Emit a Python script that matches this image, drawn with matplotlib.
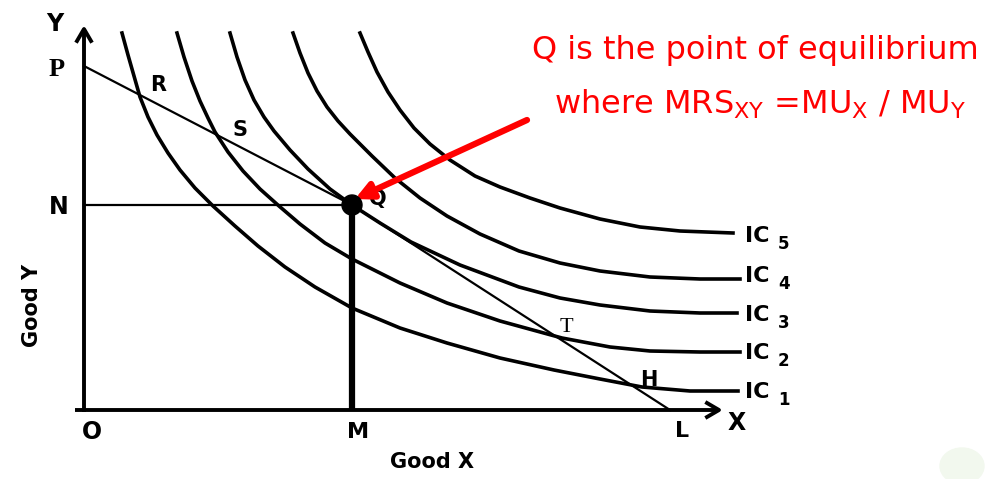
"""Consumer equilibrium: indifference curves IC1..IC5 and the budget line PL."""

import numpy as np
import matplotlib
matplotlib.use("Agg")
import matplotlib.pyplot as plt
from matplotlib.patches import Circle, Ellipse

plt.rcParams["font.family"] = ["DejaVu Sans"]

# drawing units: x to the right, y downwards, same scale as the 989x479 canvas
ORIGIN = (84, 410)
Y_TOP = 29
X_END = 719

# budget line P -> Q -> L
budget_x = [84, 352, 670]
budget_y = [66, 205, 410]

# indifference curves, read along their length
ic1_x = [122, 128, 134, 140, 148, 157, 168, 180, 195, 213, 235, 258, 285, 315, 352,
         400, 447, 500, 554, 600, 642, 690, 738]
ic1_y = [33, 55, 76, 97, 117, 135, 153, 170, 188, 206, 226, 246, 267, 287, 308,
         328, 343, 358, 370, 379, 387, 391, 391]
ic2_x = [177, 184, 192, 200, 208, 215, 228, 243, 260, 279, 300, 325, 352, 400, 447,
         500, 562, 610, 650, 700, 740]
ic2_y = [33, 57, 81, 101, 118, 132, 152, 171, 189, 206, 224, 243, 259, 283, 303,
         321, 338, 347, 351, 352, 352]
ic3_x = [230, 237, 245, 254, 264, 274, 290, 308, 330, 352, 380, 411, 460, 519, 560,
         600, 650, 700, 737]
ic3_y = [33, 57, 80, 100, 117, 131, 150, 169, 189, 205, 223, 242, 265, 287, 298,
         305, 311, 313, 313]
ic4_x = [293, 300, 308, 317, 327, 338, 350, 372, 395, 420, 447, 480, 519, 560, 600,
         650, 700, 740]
ic4_y = [33, 53, 73, 91, 107, 121, 134, 156, 178, 198, 216, 234, 251, 263, 271,
         277, 279, 279]
ic5_x = [360, 368, 377, 388, 400, 414, 430, 450, 475, 500, 530, 560, 600, 640, 680, 733]
ic5_y = [33, 52, 72, 92, 110, 128, 144, 160, 176, 187, 198, 208, 219, 227, 231, 233]
ic_names = ["1", "2", "3", "4", "5"]
ic_label_y = [392, 353, 315, 276, 236]

# lettered points on the diagram
point_names = ["R", "S", "Q", "T", "H"]
point_x = [158, 240, 378, 566, 649]
point_y = [85, 130, 199, 328, 380]

equilibrium = (352, 205)
line_1 = "Q is the point of equilibrium"
line_2 = "where MRS$_{\\mathregular{XY}}$ =MU$_{\\mathregular{X}}$ / MU$_{\\mathregular{Y}}$"

fig = plt.figure(figsize=(9.89, 4.79), dpi=100)
ax = fig.add_axes([0, 0, 1, 1])
ax.set_xlim(0, 989)
ax.set_ylim(479, 0)
ax.axis("off")

# faint smudge in the corner
ax.add_patch(Ellipse((962, 466), 44, 36, color="#f2f8ee", zorder=0))

# axes with arrow heads
ax.plot([75, X_END - 2], [ORIGIN[1], ORIGIN[1]], color="black", lw=2.8, solid_capstyle="butt")
ax.plot([ORIGIN[0], ORIGIN[0]], [ORIGIN[1] + 2, Y_TOP + 2], color="black", lw=2.8,
        solid_capstyle="butt")
ax.plot([X_END - 12, X_END, X_END - 12], [ORIGIN[1] - 7, ORIGIN[1], ORIGIN[1] + 7],
        color="black", lw=2.8)
ax.plot([ORIGIN[0] - 7, ORIGIN[0], ORIGIN[0] + 7], [Y_TOP + 12, Y_TOP, Y_TOP + 12],
        color="black", lw=2.8)

# guide lines to N and M
ax.plot([ORIGIN[0], equilibrium[0]], [equilibrium[1], equilibrium[1]], color="black", lw=1.6)
ax.plot([equilibrium[0], equilibrium[0]], [equilibrium[1], ORIGIN[1]], color="black", lw=4.5,
        solid_capstyle="butt")

ax.plot(budget_x, budget_y, color="black", lw=1.6)

curves = [(ic1_x, ic1_y), (ic2_x, ic2_y), (ic3_x, ic3_y), (ic4_x, ic4_y), (ic5_x, ic5_y)]
for cx, cy in curves:
    ax.plot(cx, cy, color="black", lw=2.6, solid_joinstyle="round")

ax.add_patch(Circle(equilibrium, 10, color="black", zorder=5))

bold = dict(fontweight="bold", color="black")
for name, px, py in zip(point_names, point_x, point_y):
    if name == "T":
        ax.text(px, py, name, fontsize=16, ha="center", va="center",
                family=["Liberation Serif", "DejaVu Serif"])
    else:
        ax.text(px, py, name, fontsize=15, ha="center", va="center", fontweight="bold")

for name, ly in zip(ic_names, ic_label_y):
    ax.text(745, ly, "IC", fontsize=16, ha="left", va="center", **bold)
    ax.text(778, ly + 8, name, fontsize=12, ha="left", va="center", **bold)

ax.text(57, 69, "P", fontsize=19, ha="center", va="center", fontweight="bold",
        family=["Liberation Serif", "DejaVu Serif"])
ax.text(55, 24, "Y", fontsize=17, ha="center", va="center", **bold)
ax.text(59, 207, "N", fontsize=17, ha="center", va="center", **bold)
ax.text(92, 432, "O", fontsize=17, ha="center", va="center", **bold)
ax.text(358, 432, "M", fontsize=16, ha="center", va="center", **bold)
ax.text(682, 431, "L", fontsize=16, ha="center", va="center", **bold)
ax.text(737, 423, "X", fontsize=17, ha="center", va="center", **bold)
ax.text(432, 462, "Good X", fontsize=15, ha="center", va="center", **bold)
ax.text(32, 305, "Good Y", fontsize=15, ha="center", va="center", rotation=90, **bold)

# red note and pointer to Q
ax.text(755, 50, line_1, fontsize=23, color="red", ha="center", va="center")
ax.text(760, 104, line_2, fontsize=23, color="red", ha="center", va="center")
ax.annotate("", xy=(355, 199), xytext=(527, 120),
            arrowprops=dict(arrowstyle="-|>,head_length=1.0,head_width=0.5",
                            color="red", lw=4.5, shrinkA=0, shrinkB=0))

fig.savefig("out.png", dpi=100)
